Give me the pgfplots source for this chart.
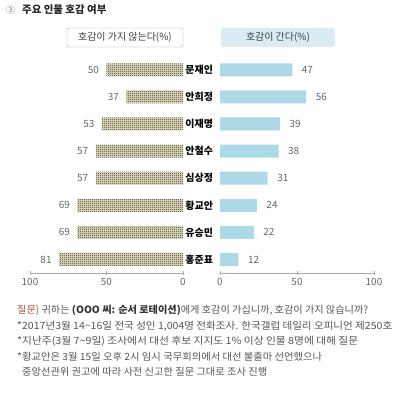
\documentclass[border=0pt]{standalone}
\usepackage{pgfplots}
\pgfplotsset{compat=1.18}
\usepackage{fontspec}
\setmainfont{Noto Sans CJK KR}
\usetikzlibrary{patterns}
\pgfdeclarepatternformonly{finecheck}{\pgfpointorigin}{\pgfqpoint{2bp}{2bp}}{\pgfqpoint{2bp}{2bp}}{%
  \pgfpathrectangle{\pgfpointorigin}{\pgfqpoint{1bp}{1bp}}%
  \pgfpathrectangle{\pgfqpoint{1bp}{1bp}}{\pgfqpoint{1bp}{1bp}}%
  \pgfusepath{fill}}
\definecolor{blu}{HTML}{ADD8E6}
\definecolor{hdrblu}{HTML}{D9ECF3}
\definecolor{olv}{HTML}{2E2D15}
\definecolor{crm}{HTML}{E8E3C6}
\definecolor{txt}{HTML}{555555}
\definecolor{num}{HTML}{666666}
\definecolor{qred}{HTML}{B0503A}
\definecolor{axgray}{HTML}{AAAAAA}
\begin{document}
\begin{tikzpicture}
\begin{scope}[x=1bp,y=1bp]
\useasboundingbox (0,0) rectangle (400,394);
% title
\node[anchor=west, inner sep=0, text=gray, font=\fontsize{9}{9}\selectfont] at (6,384) {③};
\node[anchor=west, inner sep=0, text=black!85, font=\fontsize{10.5}{10.5}\selectfont\bfseries] at (22,384) {주요 인물 호감 여부};
% headers
\draw[axgray, fill=white, rounded corners=2bp] (67,347) rectangle (183,366);
\node[text=black!75, font=\fontsize{10}{10}\selectfont] at (125,356.5) {호감이 가지 않는다(\%)};
\fill[hdrblu, rounded corners=2bp] (221,347) rectangle (335,366);
\node[text=black!75, font=\fontsize{10}{10}\selectfont] at (278,356.5) {호감이 간다(\%)};
% footnotes
\begin{scope}[every node/.style={anchor=west, inner sep=0, text=txt, font=\fontsize{10}{10}\selectfont}]
\node at (17,84) {\resizebox{351bp}{\height}{{\color{qred}질문)} 귀하는 {\bfseries\color{black!80}(OOO 씨: 순서 로테이션)}에게 호감이 가십니까, 호감이 가지 않습니까?}};
\node at (17,68) {\resizebox{375bp}{\height}{*2017년3월 14\textasciitilde16일 전국 성인 1,004명 전화조사. 한국갤럽 데일리 오피니언 제250호}};
\node at (17,53) {\resizebox{341bp}{\height}{*지난주(3월 7\textasciitilde9일) 조사에서 대선 후보 지지도 1\% 이상 인물 8명에 대해 질문}};
\node at (17,37) {\resizebox{305bp}{\height}{*황교안은 3월 15일 오후 2시 임시 국무회의에서 대선 불출마 선언했으나}};
\node at (22,22) {\resizebox{245bp}{\height}{중앙선관위 권고에 따라 사전 신고한 질문 그대로 조사 진행}};
\end{scope}
\end{scope}

% left axis
\begin{axis}[at={(30bp,121bp)}, anchor=south west, scale only axis,
  width=153bp, height=230.35bp,
  xbar, x dir=reverse, xmin=0, xmax=100, ymin=-0.5, ymax=8,
  bar width=13bp,
  axis x line=bottom, axis y line=left,
  y axis line style={draw=none}, ytick=\empty,
  x axis line style={-, draw=axgray},
  xtick={0,50,100}, tick align=center, major tick length=4bp,
  xtick style={draw=axgray},
  /pgf/number format/assume math mode=true,
  xticklabel style={font=\fontsize{10}{10}\selectfont, text=num},
  nodes near coords,
  every node near coord/.append style={anchor=east, font=\fontsize{10}{10}\selectfont, text=num, xshift=-4bp},
  clip=false]
\addplot[draw=none, fill=crm, postaction={pattern=finecheck, pattern color=olv}]
  coordinates {(81,0) (69,1) (69,2) (57,3) (57,4) (53,5) (37,6) (50,7)};
\end{axis}

% right axis
\begin{axis}[at={(220bp,121bp)}, anchor=south west, scale only axis,
  width=154bp, height=230.35bp,
  xbar, xmin=0, xmax=100, ymin=-0.5, ymax=8,
  bar width=13bp,
  axis x line=bottom, axis y line=left,
  y axis line style={draw=none}, ytick style={draw=none},
  ytick={0,...,7},
  yticklabels={홍준표,유승민,황교안,심상정,안철수,이재명,안희정,문재인},
  yticklabel style={font=\fontsize{10}{10}\selectfont\bfseries, text=black, xshift=-1.5bp},
  x axis line style={-, draw=axgray},
  xtick={0,50,100}, tick align=center, major tick length=4bp,
  xtick style={draw=axgray},
  /pgf/number format/assume math mode=true,
  xticklabel style={font=\fontsize{10}{10}\selectfont, text=num},
  nodes near coords,
  every node near coord/.append style={anchor=west, font=\fontsize{10}{10}\selectfont, text=num, xshift=6bp},
  clip=false]
\addplot[draw=none, fill=blu]
  coordinates {(12,0) (22,1) (24,2) (31,3) (38,4) (39,5) (56,6) (47,7)};
\end{axis}
\end{tikzpicture}
\end{document}
